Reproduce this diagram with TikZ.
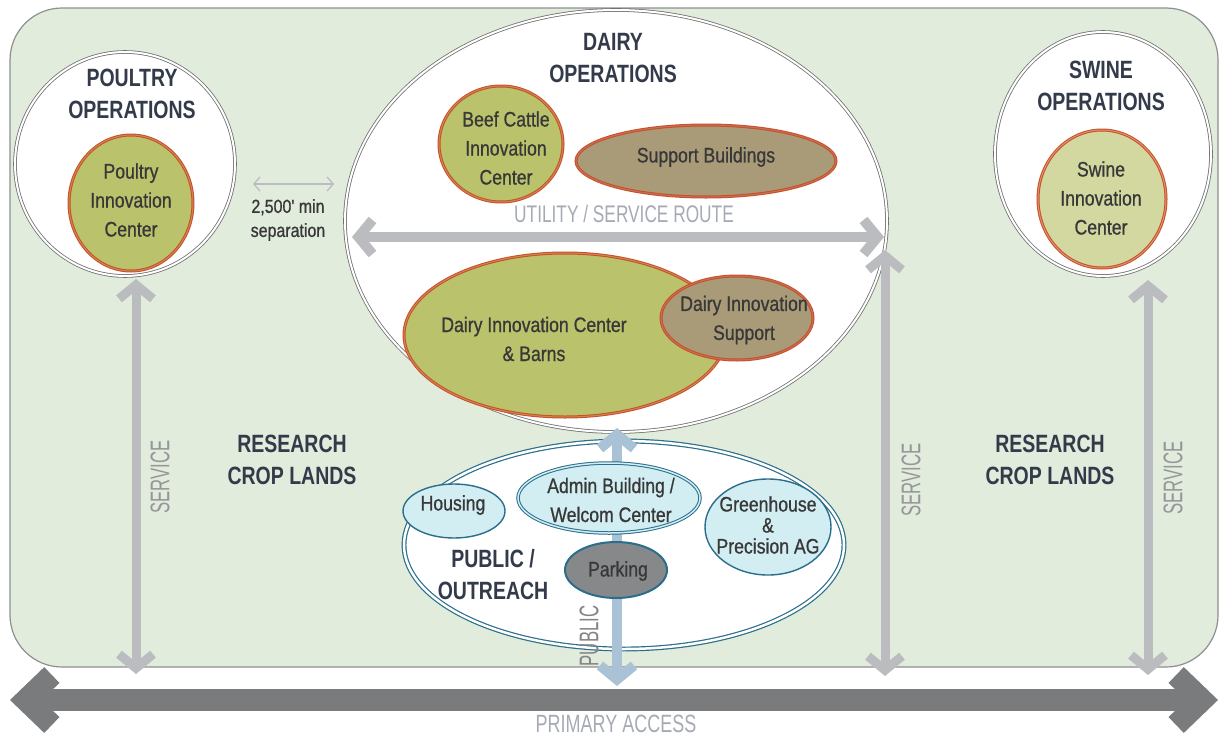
\documentclass[tikz,border=0pt]{standalone}
\usepackage{fontspec}
\setmainfont{Liberation Sans}
\newfontfamily\ttlfont{Liberation Sans Bold}[FakeStretch=0.78]
\newfontfamily\lblfont{Liberation Sans}[FakeStretch=0.84,FakeBold=0.8]
\newfontfamily\rtfont{Liberation Sans}[FakeStretch=0.72]
\newfontfamily\svfont{Liberation Sans}[FakeStretch=0.62]
\usetikzlibrary{shapes.geometric,arrows.meta}
\definecolor{bggreen}{HTML}{E2ECDC}
\definecolor{bgborder}{HTML}{8E8F8F}
\definecolor{ringgray}{HTML}{707070}
\definecolor{olive}{HTML}{BAC26C}
\definecolor{paleolive}{HTML}{D2D89F}
\definecolor{brownfill}{HTML}{A99B78}
\definecolor{redline}{HTML}{CF4B2B}
\definecolor{tealline}{HTML}{2A6E8C}
\definecolor{lightcyan}{HTML}{D3EEF2}
\definecolor{parkgray}{HTML}{87888A}
\definecolor{publicblue}{HTML}{A9C2D6}
\definecolor{servgray}{HTML}{BBBCC0}
\definecolor{primgray}{HTML}{7A7B7D}
\definecolor{routetext}{HTML}{A5AAB5}
\definecolor{titletext}{HTML}{333B4A}
\definecolor{labeltext}{HTML}{383838}
\tikzset{
  opsring/.style={ellipse, draw=ringgray, line width=0.8pt, double=white, double distance=2pt, fill=white, inner sep=0pt},
  centerbox/.style={ellipse, fill=#1, draw=redline, line width=1pt, double=redline!45!#1, double distance=1pt, inner sep=0pt},
  pubbox/.style={ellipse, fill=lightcyan, draw=tealline, line width=1.4pt, inner sep=0pt},
  ttl/.style={text=titletext, font=\ttlfont\fontsize{25}{32}\selectfont, align=center, inner sep=0pt},
  lbl/.style={text=labeltext, font=\lblfont\fontsize{21}{29}\selectfont, align=center, inner sep=0pt},
  routelbl/.style={text=routetext, font=\rtfont\fontsize{24}{28}\selectfont, inner sep=0pt},
  servlbl/.style={text=#1, font=\svfont\fontsize{27}{30}\selectfont, rotate=90, inner sep=0pt},
  servarrow/.style={draw=servgray, line width=9pt, {Straight Barb[length=14pt,width=34pt,sharp]}-{Straight Barb[length=14pt,width=34pt,sharp]}},
}
\begin{document}
\begin{tikzpicture}[x=1pt,y=-1pt]
\useasboundingbox (0,0) rectangle (1220,736);
% background field
\draw[fill=bggreen, draw=bgborder, line width=1.2pt, rounded corners=52pt] (10,8) rectangle (1218,667);
\node[inner sep=0pt] (field) at (614,338) {};

% primary access
\coordinate (primL) at (10,700);
\coordinate (primR) at (1218,700);
\draw[draw=primgray, line width=22pt, {Straight Barb[length=26pt,width=50pt,sharp]}-{Straight Barb[length=26pt,width=50pt,sharp]}] (primL) -- (primR);
\node[routelbl, font=\rtfont\fontsize{25}{28}\selectfont] (primtxt) at (616,724) {PRIMARY ACCESS};

% poultry
\node[opsring, minimum width=220pt, minimum height=224pt] (poultry) at (125,164) {};
\node[ttl] (poultrytitle) at (132,94) {POULTRY\\OPERATIONS};
\node[centerbox=olive, minimum width=124pt, minimum height=136pt] (poultryc) at (131,203) {};
\node[lbl] (poultryctxt) at (131,200) {Poultry\\Innovation\\Center};

% swine
\node[opsring, minimum width=216pt, minimum height=244pt] (swine) at (1103,154) {};
\node[ttl] (swinetitle) at (1101,86) {SWINE\\OPERATIONS};
\node[centerbox=paleolive, minimum width=128pt, minimum height=138pt] (swinec) at (1102,199) {};
\node[lbl] (swinectxt) at (1101,198) {Swine\\Innovation\\Center};

% dairy
\node[opsring, minimum width=542pt, minimum height=422pt] (dairy) at (616,221) {};
\node[ttl] (dairytitle) at (613,58) {DAIRY\\OPERATIONS};
\node[centerbox=olive, minimum width=124pt, minimum height=116pt] (beef) at (501,144) {};
\node[lbl] (beeftxt) at (506,148) {Beef Cattle\\Innovation\\Center};
\node[centerbox=brownfill, minimum width=260pt, minimum height=72pt] (support) at (706,161) {};
\node[lbl] (supporttxt) at (706,157) {Support Buildings};
\node[centerbox=olive, minimum width=322pt, minimum height=164pt] (barns) at (565,335) {};
\node[lbl] (barnstxt) at (534,339) {Dairy Innovation Center\\\& Barns};
\node[centerbox=brownfill, minimum width=152pt, minimum height=84pt] (dsupport) at (737,318) {};
\node[lbl] (dsupporttxt) at (744,320) {Dairy Innovation\\Support};

% utility route
\coordinate (utilL) at (352,237);
\coordinate (utilR) at (884,237);
\draw[servarrow, line width=10pt] (utilL) -- (utilR);
\node[routelbl] (utiltxt) at (624,214) {UTILITY / SERVICE ROUTE};

% service roads
\coordinate (s1top) at (136,279);
\coordinate (s1bot) at (136,674);
\coordinate (s2top) at (885,250);
\coordinate (s2bot) at (885,676);
\coordinate (s3top) at (1148,280);
\coordinate (s3bot) at (1148,675);
\draw[servarrow] (s1bot) -- (s1top);
\draw[servarrow] (s2bot) -- (s2top);
\draw[servarrow] (s3bot) -- (s3top);
\node[servlbl=servgray!80!black] (serv1) at (160,477) {SERVICE};
\node[servlbl=servgray!80!black] (serv2) at (911,480) {SERVICE};
\node[servlbl=servgray!80!black] (serv3) at (1173,478) {SERVICE};

% research crop lands
\node[ttl] (crop1) at (292,460) {RESEARCH\\CROP LANDS};
\node[ttl] (crop2) at (1050,460) {RESEARCH\\CROP LANDS};

% separation
\coordinate (sepL) at (253,184);
\coordinate (sepR) at (334,184);
\draw[draw=servgray, line width=1.3pt, {Straight Barb[length=6pt,width=14pt]}-{Straight Barb[length=6pt,width=14pt]}] (sepL) -- (sepR);
\node[lbl, font=\lblfont\fontsize{19}{24}\selectfont] (septxt) at (288,220) {2,500' min\\separation};

% public / outreach
\node[ellipse, fill=white, draw=tealline, line width=1.2pt, double=white, double distance=2.5pt, minimum width=440pt, minimum height=208pt, inner sep=0pt] (public) at (624,545) {};
\coordinate (pubtop) at (617,428);
\coordinate (pubbot) at (617,686);
\draw[draw=publicblue, line width=10pt, {Straight Barb[length=14pt,width=34pt,sharp]}-{Straight Barb[length=14pt,width=34pt,sharp]}] (pubbot) -- (pubtop);
\node[pubbox, minimum width=102pt, minimum height=54pt] (housing) at (454,511) {};
\node[lbl] (housingtxt) at (453,505) {Housing};
\node[pubbox, double=lightcyan, double distance=1.5pt, line width=1pt, minimum width=182pt, minimum height=70pt] (admin) at (609,498) {};
\node[lbl] (admintxt) at (611,500) {Admin Building /\\Welcom Center};
\node[pubbox, minimum width=126pt, minimum height=96pt] (green) at (768,527) {};
\node[lbl, font=\lblfont\fontsize{21}{21}\selectfont] (greentxt) at (768,525) {Greenhouse\\\&\\Precision AG};
\node[ellipse, fill=parkgray, draw=tealline, line width=2pt, minimum width=102pt, minimum height=56pt, inner sep=0pt] (parking) at (616,570) {};
\node[lbl] (parkingtxt) at (618,571) {Parking};
\node[ttl] (pubtitle) at (493,575) {PUBLIC /\\OUTREACH};
\node[servlbl=servgray!70!black] (publictxt) at (589,636) {PUBLIC};
\end{tikzpicture}
\end{document}
